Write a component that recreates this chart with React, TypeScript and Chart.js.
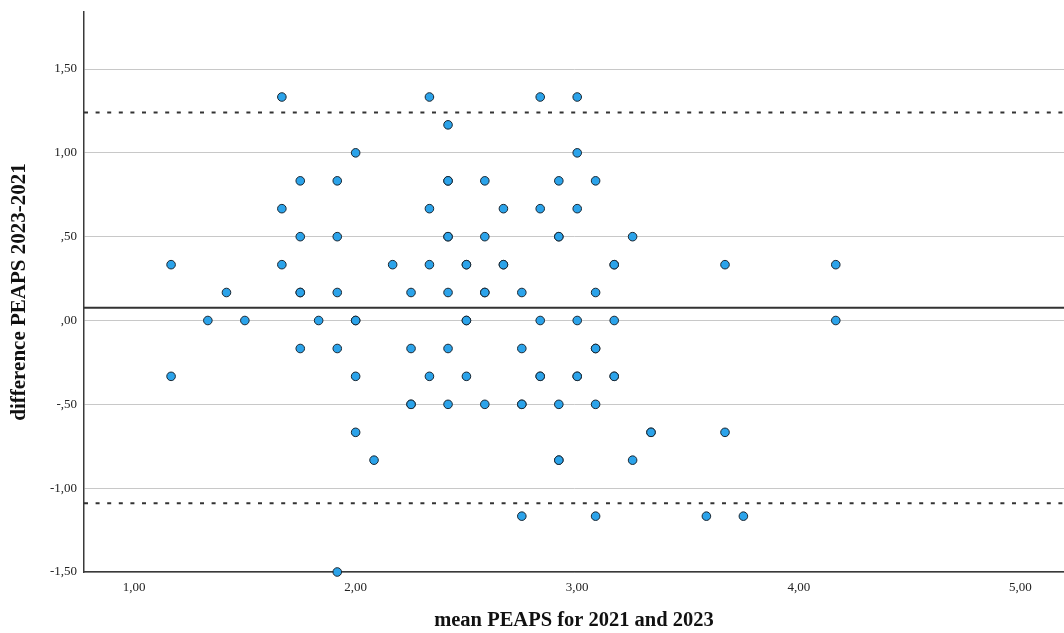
import React, { useEffect, useRef } from "react";
import { Chart, registerables } from "chart.js";

Chart.register(...registerables);

// mean of PEAPS 2021 & 2023 (x) and difference 2023-2021 (y)
const meanPEAPS: number[] = [
  1.667, 2.333, 2.833, 3.0,
  2.417,
  2.0, 3.0,
  1.75, 1.917, 2.417, 2.417, 2.583, 2.917, 3.083,
  1.667, 2.333, 2.667, 2.833, 3.0,
  1.75, 1.917, 2.417, 2.417, 2.583, 2.917, 2.917, 3.25,
  1.167, 1.667, 2.167, 2.333, 2.5, 2.5, 2.667, 2.667, 3.167, 3.167, 3.667, 4.167,
  1.417, 1.75, 1.75, 1.917, 2.25, 2.417, 2.583, 2.583, 2.75, 3.083,
  1.333, 1.5, 1.833, 2.0, 2.0, 2.5, 2.5, 2.833, 3.0, 3.167, 4.167,
  1.75, 1.917, 2.25, 2.417, 2.75, 3.083, 3.083,
  1.167, 2.0, 2.333, 2.5, 2.833, 2.833, 3.0, 3.0, 3.167, 3.167,
  2.25, 2.25, 2.417, 2.583, 2.75, 2.75, 2.917, 3.083,
  2.0, 3.333, 3.333, 3.667,
  2.083, 2.917, 2.917, 3.25,
  2.75, 3.083, 3.583, 3.75,
  1.917,
];
const diffPEAPS: number[] = [
  1.333, 1.333, 1.333, 1.333,
  1.167,
  1.0, 1.0,
  0.833, 0.833, 0.833, 0.833, 0.833, 0.833, 0.833,
  0.667, 0.667, 0.667, 0.667, 0.667,
  0.5, 0.5, 0.5, 0.5, 0.5, 0.5, 0.5, 0.5,
  0.333, 0.333, 0.333, 0.333, 0.333, 0.333, 0.333, 0.333, 0.333, 0.333, 0.333, 0.333,
  0.167, 0.167, 0.167, 0.167, 0.167, 0.167, 0.167, 0.167, 0.167, 0.167,
  0, 0, 0, 0, 0, 0, 0, 0, 0, 0, 0,
  -0.167, -0.167, -0.167, -0.167, -0.167, -0.167, -0.167,
  -0.333, -0.333, -0.333, -0.333, -0.333, -0.333, -0.333, -0.333, -0.333, -0.333,
  -0.5, -0.5, -0.5, -0.5, -0.5, -0.5, -0.5, -0.5,
  -0.667, -0.667, -0.667, -0.667,
  -0.833, -0.833, -0.833, -0.833,
  -1.167, -1.167, -1.167, -1.167,
  -1.5,
];

const meanDiff = 0.076;
const upperLoA = 1.24;
const lowerLoA = -1.09;

const xTickValues = [1, 2, 3, 4, 5];
const xTickLabels = ["1,00", "2,00", "3,00", "4,00", "5,00"];
const yTickValues = [-1.5, -1, -0.5, 0, 0.5, 1, 1.5];
const yTickLabels = ["-1,50", "-1,00", "-,50", ",00", ",50", "1,00", "1,50"];

const xRange = [0.774, 5.197];
const yRange = [-1.5, 1.84];

const xTitle = "mean PEAPS for 2021 and 2023";
const yTitle = "difference PEAPS 2023-2021";

const FONT = '"Liberation Serif", "Times New Roman", serif';

export default function App() {
  const ref = useRef<HTMLCanvasElement | null>(null);

  useEffect(() => {
    if (!ref.current) return;
    const points = meanPEAPS.map((x, i) => ({ x, y: diffPEAPS[i] }));
    const hLine = (y: number) => [
      { x: xRange[0], y },
      { x: xRange[1], y },
    ];
    const chart = new Chart(ref.current, {
      type: "scatter",
      data: {
        datasets: [
          {
            type: "scatter",
            data: points,
            pointRadius: 4.3,
            pointHoverRadius: 4.3,
            pointBackgroundColor: "#2ba3ea",
            pointBorderColor: "#1b2630",
            pointBorderWidth: 1,
            clip: false as any,
            order: 0,
          },
          {
            type: "line",
            data: hLine(meanDiff),
            borderColor: "#333333",
            borderWidth: 2,
            pointRadius: 0,
            order: 1,
          },
          {
            type: "line",
            data: hLine(upperLoA),
            borderColor: "#333333",
            borderWidth: 2,
            borderDash: [4, 7.6],
            pointRadius: 0,
            order: 1,
          },
          {
            type: "line",
            data: hLine(lowerLoA),
            borderColor: "#333333",
            borderWidth: 2,
            borderDash: [4, 7.6],
            pointRadius: 0,
            order: 1,
          },
        ],
      } as any,
      options: {
        animation: false,
        responsive: false,
        maintainAspectRatio: false,
        layout: { autoPadding: false, padding: { top: 12, right: 0, left: 0, bottom: 0 } },
        plugins: {
          legend: { display: false },
          tooltip: { enabled: false },
        },
        scales: {
          x: {
            type: "linear",
            min: xRange[0],
            max: xRange[1],
            afterBuildTicks: (s: any) => {
              s.ticks = xTickValues.map((v) => ({ value: v }));
            },
            afterFit: (s: any) => {
              s.height = 61;
              s.paddingLeft = 0;
              s.paddingRight = 0;
            },
            ticks: {
              callback: (v: any) => xTickLabels[xTickValues.indexOf(Number(v))] ?? "",
              font: { family: FONT, size: 13 },
              color: "#222",
              padding: 8,
              maxRotation: 0,
              autoSkip: false,
            },
            grid: { display: false, drawTicks: false },
            border: { display: true, color: "#3a3a3a", width: 1.5 },
            title: {
              display: true,
              text: xTitle,
              font: { family: FONT, size: 20.5, weight: "bold" },
              color: "#111",
              padding: { top: 0, bottom: 0 },
            },
          },
          y: {
            type: "linear",
            min: yRange[0],
            max: yRange[1],
            afterBuildTicks: (s: any) => {
              s.ticks = yTickValues.map((v) => ({ value: v }));
            },
            afterFit: (s: any) => {
              s.width = 84;
              s.paddingTop = 0;
              s.paddingBottom = 0;
            },
            ticks: {
              callback: (v: any) => yTickLabels[yTickValues.indexOf(Number(v))] ?? "",
              font: { family: FONT, size: 13 },
              color: "#222",
              padding: 7,
              autoSkip: false,
            },
            grid: { display: true, color: "#c8c8c8", lineWidth: 1, drawTicks: false },
            border: { display: true, color: "#3a3a3a", width: 1.5 },
            title: {
              display: true,
              text: yTitle,
              font: { family: FONT, size: 21, weight: "bold" },
              color: "#111",
              padding: { top: 7, bottom: 0 },
            },
          },
        },
      } as any,
    });
    return () => chart.destroy();
  }, []);

  return (
    <div style={{ position: "absolute", left: 0, top: 0, width: 1064, height: 633, background: "#fff" }}>
      <canvas ref={ref} width={1064} height={633} style={{ width: 1064, height: 633, display: "block" }} />
    </div>
  );
}
